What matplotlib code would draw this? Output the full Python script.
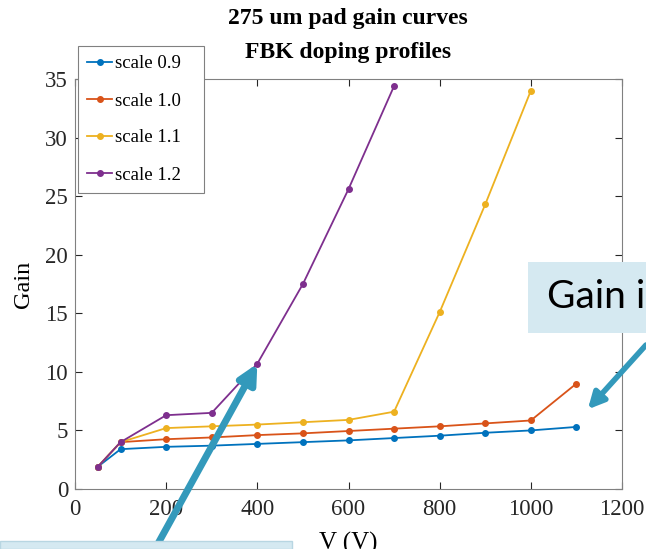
import matplotlib
matplotlib.use("Agg")
import matplotlib.pyplot as plt
from matplotlib.patches import Rectangle

# data
volts = [50, 100, 200, 300, 400, 500, 600, 700, 800, 900, 1000, 1100]
gain_09 = [1.9, 3.4, 3.6, 3.7, 3.85, 4.0, 4.15, 4.35, 4.55, 4.8, 5.0, 5.3]
gain_10 = [1.9, 4.0, 4.25, 4.4, 4.6, 4.75, 4.95, 5.15, 5.35, 5.6, 5.85, 9.0]
gain_11 = [1.9, 4.0, 5.2, 5.35, 5.5, 5.7, 5.9, 6.6, 15.1, 24.3, 34.0]
gain_12 = [1.9, 4.0, 6.3, 6.5, 10.7, 17.5, 25.6, 34.4]
labels = ['scale 0.9', 'scale 1.0', 'scale 1.1', 'scale 1.2']
colors = ['#0072BD', '#D95319', '#EDB120', '#7E2F8E']
xticks = [0, 200, 400, 600, 800, 1000, 1200]
yticks = [0, 5, 10, 15, 20, 25, 30, 35]

plt.rcParams['font.family'] = ['Liberation Serif', 'DejaVu Serif']

fig = plt.figure(figsize=(6.46, 5.49), dpi=100)
ax = fig.add_axes([75 / 646, 1 - 489 / 549, 547 / 646, 410 / 549])

series = [gain_09, gain_10, gain_11, gain_12]
for g, lab, c in zip(series, labels, colors):
    ax.plot(volts[:len(g)], g, color=c, marker='o', markersize=4, linewidth=1.3,
            label=lab + '   ')

ax.set_xlim(0, 1200)
ax.set_ylim(0, 35)
ax.set_xticks(xticks)
ax.set_yticks(yticks)
ax.tick_params(direction='in', top=True, right=True, labelsize=16.5, colors='#262626', length=5)
ax.tick_params(axis='x', pad=7)
ax.tick_params(axis='y', pad=5)
for s in ax.spines.values():
    s.set_color('#808080')
    s.set_linewidth(0.8)
ax.set_xlabel('V (V)', fontsize=18, labelpad=9)
ax.set_ylabel('Gain', fontsize=17.5, labelpad=8)

fig.text(0.539, 0.967, '275 um pad gain curves', ha='center', va='center',
         fontsize=17, fontweight='bold')
fig.text(0.539, 0.905, 'FBK doping profiles', ha='center', va='center',
         fontsize=17, fontweight='bold')

leg = ax.legend(loc='upper left', bbox_to_anchor=(78 / 646, 1 - 46 / 549),
                bbox_transform=fig.transFigure, borderaxespad=0, fontsize=13.5,
                labelspacing=1.06, handlelength=1.3, handletextpad=0.15, borderpad=0.5,
                fancybox=False, framealpha=1, edgecolor='#808080')
leg.get_frame().set_linewidth(0.8)

# overlaid slide decorations
arrow_c = '#3399BB'
ax.annotate('', xy=(400, 10.7), xycoords='data', xytext=(155 / 646, 0.0),
            textcoords='figure fraction', annotation_clip=False,
            arrowprops=dict(arrowstyle='-|>', lw=5, color=arrow_c, mutation_scale=28,
                            shrinkA=0, shrinkB=0))
ax.annotate('', xy=(1125, 6.8), xycoords='data', xytext=(1.0, 1 - 345 / 549),
            textcoords='figure fraction', annotation_clip=False,
            arrowprops=dict(arrowstyle='-|>', lw=4, color=arrow_c, mutation_scale=24,
                            shrinkA=0, shrinkB=0))

fig.patches.append(Rectangle((528 / 646, 1 - 333 / 549), 0.2, 71 / 549,
                             transform=fig.transFigure, facecolor='#D5E9F1',
                             edgecolor='none', zorder=5))
fig.text(547 / 646, 1 - 297 / 549, 'Gain is', fontsize=28, family='Lato',
         va='center', ha='left', zorder=6)
fig.patches.append(Rectangle((0, 0), 292 / 646, 8 / 549, transform=fig.transFigure,
                             facecolor='#D5E9F1', edgecolor='#B8D6E2', zorder=5))

fig.savefig('out.png', dpi=100)
